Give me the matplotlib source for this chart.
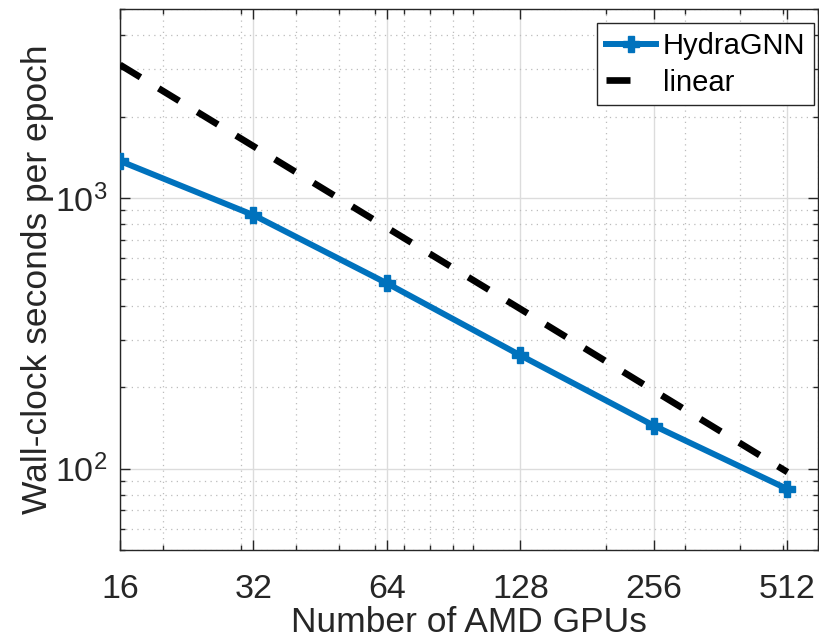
import matplotlib
matplotlib.use("Agg")
import matplotlib.pyplot as plt
from matplotlib.ticker import FixedLocator, NullFormatter, LogLocator

plt.rcParams['font.family'] = ['Liberation Sans', 'DejaVu Sans']

# data
gpus = [16, 32, 64, 128, 256, 512]
hydragnn = [1371, 865, 484, 262, 144, 84]
linear = [3110, 1555, 777, 389, 194, 97]
xtick_labels = ['16', '32', '64', '128', '256', '512']

blue = '#0072BD'
dark = '#262626'

fig = plt.figure(figsize=(8.2, 6.39), dpi=100)
ax = fig.add_axes([0.1463, 0.1393, 0.9976 - 0.1463, 0.9859 - 0.1393])

ax.plot(gpus, hydragnn, color=blue, lw=4.3, marker='P', ms=12,
        mec=blue, mfc=blue, label='HydraGNN', zorder=3)
ax.plot(gpus, linear, color='black', lw=4.8, ls=(0, (3.6, 3.2)),
        dash_capstyle='butt', label='linear', zorder=3)

ax.set_xscale('log', base=2)
ax.set_yscale('log')
ax.set_xlim(16, 600)
ax.set_ylim(50, 5000)

ax.xaxis.set_major_locator(FixedLocator(gpus))
ax.set_xticklabels(xtick_labels)
minor_x = [v for v in list(range(20, 100, 10)) + list(range(100, 700, 100))
           if v not in gpus]
ax.xaxis.set_minor_locator(FixedLocator(minor_x))
ax.xaxis.set_minor_formatter(NullFormatter())
ax.yaxis.set_major_locator(LogLocator(base=10))
ax.yaxis.set_minor_locator(LogLocator(base=10, subs=range(2, 10)))
ax.yaxis.set_minor_formatter(NullFormatter())

ax.grid(True, which='major', color='#dcdcdc', lw=1.0, ls='-', zorder=0)
ax.grid(True, which='minor', color='#bcbcbc', lw=0.9, ls=(0, (1, 3.5)), zorder=0)
ax.set_axisbelow(True)

ax.tick_params(which='both', direction='in', top=True, right=True,
               colors=dark, labelcolor=dark, labelsize=24.5, width=1.0)
ax.tick_params(which='major', length=7)
ax.tick_params(axis='x', which='major', pad=17)
ax.tick_params(axis='y', which='major', pad=9)
ax.tick_params(which='minor', length=3.5)
for s in ax.spines.values():
    s.set_color(dark)
    s.set_linewidth(1.0)

ax.set_xlabel('Number of AMD GPUs', fontsize=25.5, color=dark, labelpad=1)
ax.set_ylabel('Wall-clock seconds per epoch', fontsize=25.5, color=dark, labelpad=1)

leg = ax.legend(loc='upper right', bbox_to_anchor=(0.9943, 0.9741),
                fontsize=21, fancybox=False, framealpha=1,
                edgecolor=dark, handlelength=1.7, handletextpad=0.25,
                borderpad=0.3, labelspacing=0.3, borderaxespad=0)
leg.get_frame().set_linewidth(1.0)
# single dash in the legend sample, like the original
leg.get_lines()[1].set_linestyle((0, (3.6, 10)))

fig.savefig('out.png', dpi=100)
